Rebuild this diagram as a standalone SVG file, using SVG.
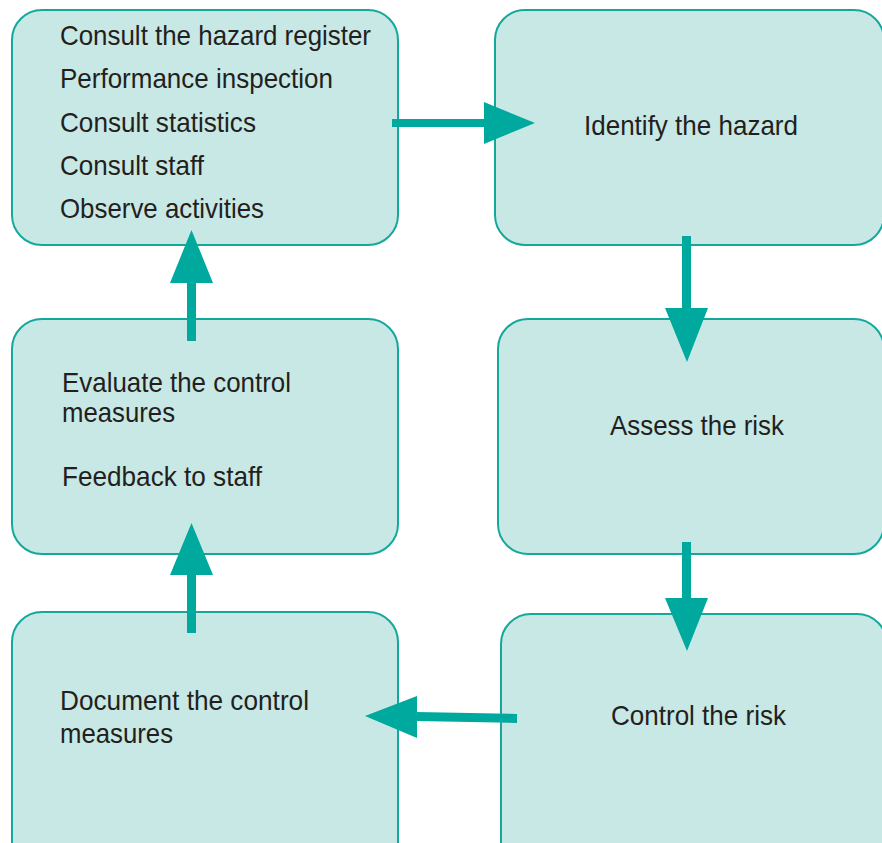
<svg xmlns="http://www.w3.org/2000/svg" width="882" height="843" viewBox="0 0 882 843">
  <style>
    .box { fill: #c8e8e5; stroke: #14a89c; stroke-width: 2; }
    .lbl { font-family: "Liberation Sans Narrow", "Liberation Sans", Arial, sans-serif; font-size: 28px; fill: #231f20; }
    .arrow { fill: #00a99d; stroke: none; }
  </style>
  <rect width="882" height="843" fill="#ffffff"/>

  <g id="node-sources">
    <rect class="box" x="12" y="10" width="386" height="235" rx="30" ry="30"/>
    <text class="lbl" x="60" y="45" textLength="311" lengthAdjust="spacingAndGlyphs">Consult the hazard register</text>
    <text class="lbl" x="60" y="88" textLength="273" lengthAdjust="spacingAndGlyphs">Performance inspection</text>
    <text class="lbl" x="60" y="132" textLength="196" lengthAdjust="spacingAndGlyphs">Consult statistics</text>
    <text class="lbl" x="60" y="175" textLength="144" lengthAdjust="spacingAndGlyphs">Consult staff</text>
    <text class="lbl" x="60" y="218" textLength="204" lengthAdjust="spacingAndGlyphs">Observe activities</text>
  </g>

  <g id="node-identify">
    <rect class="box" x="495" y="10" width="389" height="235" rx="30" ry="30"/>
    <text class="lbl" x="584" y="135" textLength="214" lengthAdjust="spacingAndGlyphs">Identify the hazard</text>
  </g>

  <g id="node-evaluate">
    <rect class="box" x="12" y="319" width="386" height="235" rx="30" ry="30"/>
    <text class="lbl" x="62" y="392" textLength="229" lengthAdjust="spacingAndGlyphs">Evaluate the control</text>
    <text class="lbl" x="62" y="422" textLength="113" lengthAdjust="spacingAndGlyphs">measures</text>
    <text class="lbl" x="62" y="486" textLength="200" lengthAdjust="spacingAndGlyphs">Feedback to staff</text>
  </g>

  <g id="node-assess">
    <rect class="box" x="498" y="319" width="386" height="235" rx="30" ry="30"/>
    <text class="lbl" x="610" y="435" textLength="174" lengthAdjust="spacingAndGlyphs">Assess the risk</text>
  </g>

  <g id="node-document">
    <rect class="box" x="12" y="612" width="386" height="260" rx="30" ry="30"/>
    <text class="lbl" x="60" y="710" textLength="249" lengthAdjust="spacingAndGlyphs">Document the control</text>
    <text class="lbl" x="60" y="743" textLength="113" lengthAdjust="spacingAndGlyphs">measures</text>
  </g>

  <g id="node-control">
    <rect class="box" x="501" y="614" width="386" height="260" rx="30" ry="30"/>
    <text class="lbl" x="611" y="725" textLength="175" lengthAdjust="spacingAndGlyphs">Control the risk</text>
  </g>

  <g id="connectors">
    <!-- sources -> identify -->
    <polygon class="arrow" points="392,119 484,119 484,102 535,123 484,144 484,127 392,127"/>
    <!-- identify -> assess -->
    <polygon class="arrow" points="682,236 691,236 691,308 708,308 687,362 665,308 682,308"/>
    <!-- assess -> control -->
    <polygon class="arrow" points="682,542 691,542 691,598 708,598 687,651 665,598 682,598"/>
    <!-- control -> document -->
    <polygon class="arrow" points="517,714 517,723 417,721 417,738 365,716 417,696 417,712"/>
    <!-- document -> evaluate -->
    <polygon class="arrow" points="187,633 196,633 196,575 213,575 191.5,523 170,575 187,575"/>
    <!-- evaluate -> sources -->
    <polygon class="arrow" points="187,341 196,341 196,283 213,283 191.5,230 170,283 187,283"/>
  </g>
</svg>
